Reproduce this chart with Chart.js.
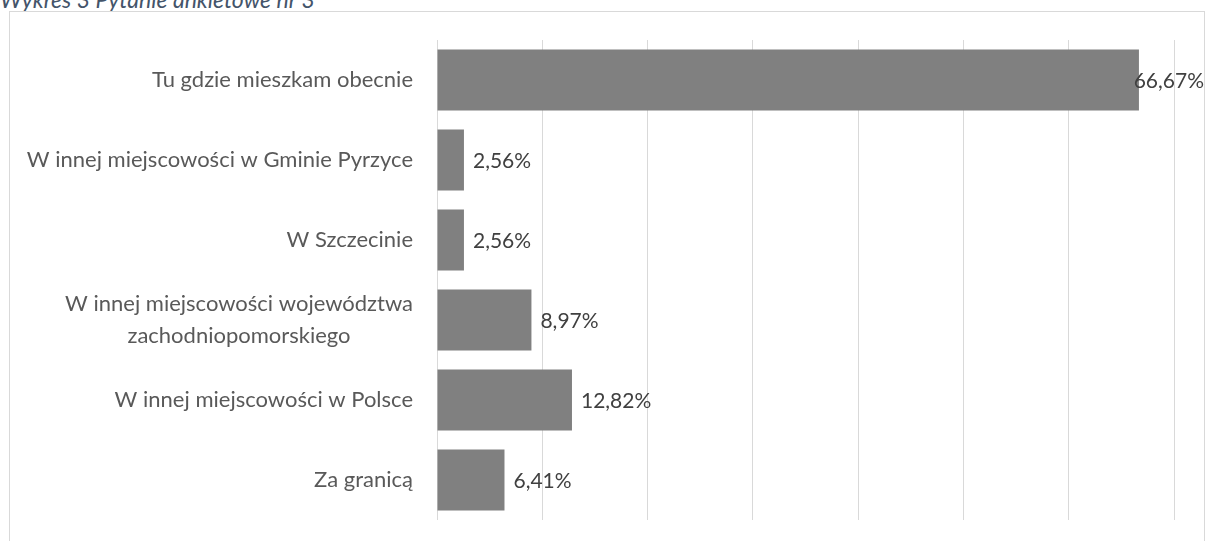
<!DOCTYPE html>
<html>
<head>
<meta charset="utf-8">
<script src="https://cdn.jsdelivr.net/npm/chart.js@4"></script>
<style>
    body { margin: 0; background: #fff; overflow: hidden; }
    .wrap { position: relative; width: 1206px; height: 541px; }
    .title {
        position: absolute; left: 0; top: -15px;
        font: italic 23px Lato, sans-serif; color: #44546A; white-space: nowrap;
    }
    .frame {
        position: absolute; left: 9px; top: 11px; width: 1194px; height: 560px;
        border: 1px solid #D9D9D9;
    }
    canvas { position: absolute; left: 0; top: 0; }
</style>
</head>
<body>
<div class="wrap">
    <div class="title">Wykres 3 Pytanie ankietowe nr 3</div>
    <div class="frame"></div>
    <canvas id="chart" width="1206" height="541"></canvas>
</div>
<script>
const categories = [
    'Tu gdzie mieszkam obecnie',
    'W innej miejscowości w Gminie Pyrzyce',
    'W Szczecinie',
    ['W innej miejscowości województwa', 'zachodniopomorskiego'],
    'W innej miejscowości w Polsce',
    'Za granicą'
];
const values = [66.67, 2.56, 2.56, 8.97, 12.82, 6.41];
const xTicks = [0, 10, 20, 30, 40, 50, 60, 70];

const FONT = 'Lato, sans-serif';

// category labels: block right-aligned, lines centred inside the block
const categoryLabels = {
    id: 'categoryLabels',
    afterDraw(chart) {
        const ctx = chart.ctx;
        const y = chart.scales.y;
        ctx.save();
        ctx.font = '22px ' + FONT;
        ctx.fillStyle = '#595959';
        ctx.textAlign = 'center';
        ctx.textBaseline = 'middle';
        categories.forEach((cat, i) => {
            const lines = Array.isArray(cat) ? cat : [cat];
            const w = Math.max(...lines.map(l => ctx.measureText(l).width));
            const cx = chart.chartArea.left - 24 - w / 2;
            const cy = y.getPixelForTick(i);
            const lh = 32;
            lines.forEach((l, j) => {
                ctx.fillText(l, cx, cy + (j - (lines.length - 1) / 2) * lh);
            });
        });
        ctx.restore();
    }
};

// value labels at the end of each bar
const valueLabels = {
    id: 'valueLabels',
    afterDatasetsDraw(chart) {
        const ctx = chart.ctx;
        const meta = chart.getDatasetMeta(0);
        ctx.save();
        ctx.font = '21px ' + FONT;
        ctx.fillStyle = '#404040';
        ctx.textAlign = 'left';
        ctx.textBaseline = 'middle';
        meta.data.forEach((bar, i) => {
            const txt = values[i].toFixed(2).replace('.', ',') + '%';
            const w = ctx.measureText(txt).width;
            let x = bar.x + 9;
            if (x + w > 1204) x = 1204 - w;
            ctx.fillText(txt, x, bar.y + 1);
        });
        ctx.restore();
    }
};

new Chart(document.getElementById('chart'), {
    type: 'bar',
    data: {
        labels: categories,
        datasets: [{
            data: values,
            backgroundColor: '#808080',
            borderWidth: 0,
            barPercentage: 0.7625,
            categoryPercentage: 1
        }]
    },
    options: {
        indexAxis: 'y',
        responsive: false,
        animation: false,
        layout: { padding: { left: 437, right: 32, top: 40, bottom: 21 } },
        plugins: {
            legend: { display: false },
            tooltip: { enabled: false }
        },
        scales: {
            x: {
                min: xTicks[0],
                max: xTicks[xTicks.length - 1],
                afterBuildTicks: (axis) => { axis.ticks = xTicks.map(v => ({ value: v })); },
                ticks: { display: false },
                grid: { color: '#D9D9D9', drawTicks: false },
                border: { display: false }
            },
            y: {
                display: false
            }
        }
    },
    plugins: [categoryLabels, valueLabels]
});
</script>
</body>
</html>
